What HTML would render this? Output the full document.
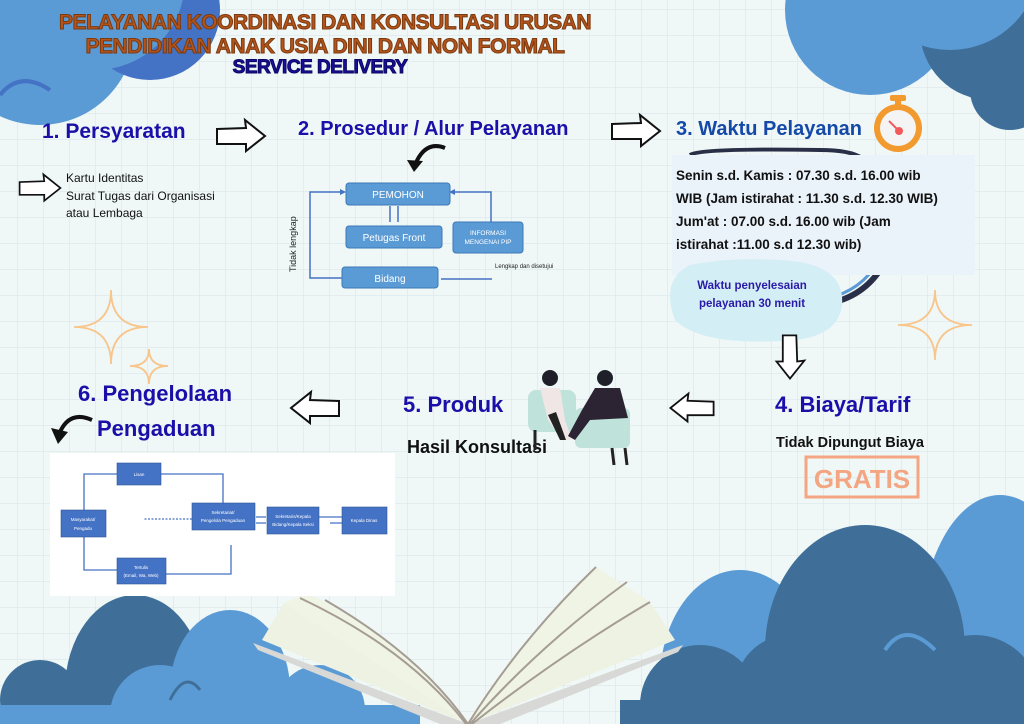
<!DOCTYPE html>
<html><head><meta charset="utf-8"><style>
html,body{margin:0;padding:0;width:1024px;height:724px;overflow:hidden;background:#eff7f7}
svg{display:block;position:absolute;left:0;top:0}
text{font-family:"Liberation Sans",sans-serif}
</style></head><body>
<svg width="1024" height="724" viewBox="0 0 1024 724" xmlns="http://www.w3.org/2000/svg">
<defs>
<pattern id="g" width="26" height="26" patternUnits="userSpaceOnUse" x="18" y="10">
<path d="M26 0V26M0 26H26" stroke="#dfe9eb" stroke-width="1.5" fill="none"/>
</pattern>
<path id="ra" d="M-24,-7 L5,-8 L4,-16 L24,0 L5,15 L5,8 L-24,8 Z"/>
</defs>
<rect width="1024" height="724" fill="#eff7f7"/>
<rect width="1024" height="724" fill="url(#g)"/>

<circle cx="40" cy="30" r="95" fill="#5b9bd5"/>
<circle cx="150" cy="10" r="70" fill="#4472c4"/>
<circle cx="95" cy="-20" r="90" fill="#5b9bd5"/>
<path d="M0,95 Q20,70 50,90" stroke="#4472c4" stroke-width="4" fill="none"/>
<circle cx="870" cy="10" r="85" fill="#5b9bd5"/>
<circle cx="990" cy="30" r="70" fill="#3f6f99"/>
<circle cx="950" cy="-40" r="90" fill="#5b9bd5"/>
<circle cx="1010" cy="90" r="40" fill="#3f6f99"/>

<ellipse cx="135" cy="690" rx="70" ry="95" fill="#3f6f99"/>
<circle cx="40" cy="700" r="40" fill="#3f6f99"/>
<ellipse cx="230" cy="690" rx="60" ry="80" fill="#5b9bd5"/>
<circle cx="160" cy="715" r="50" fill="#5b9bd5"/>
<circle cx="320" cy="710" r="45" fill="#5b9bd5"/>
<rect x="0" y="705" width="420" height="19" fill="#5b9bd5"/>
<path d="M170,700 Q185,670 200,690" stroke="#3f6f99" stroke-width="3" fill="none"/>
<ellipse cx="1000" cy="640" rx="80" ry="145" fill="#5b9bd5"/>
<ellipse cx="740" cy="680" rx="80" ry="110" fill="#5b9bd5"/>
<ellipse cx="865" cy="650" rx="100" ry="125" fill="#3f6f99"/>
<circle cx="700" cy="705" r="60" fill="#3f6f99"/>
<circle cx="790" cy="690" r="55" fill="#3f6f99"/>
<circle cx="975" cy="700" r="65" fill="#3f6f99"/>
<rect x="620" y="700" width="404" height="24" fill="#3f6f99"/>
<path d="M885,650 Q905,620 935,650" stroke="#5b9bd5" stroke-width="4" fill="none"/>

<path d="M253,643 L468,724 L440,724 L258,650 Z" fill="#d8d8d6"/>
<path d="M683,645 L468,724 L500,724 L678,652 Z" fill="#d8d8d6"/>
<path d="M262,640 L284,603 Q400,650 468,724 Z" fill="#eef2e2"/>
<path d="M675,640 L650,602 Q540,660 468,724 Z" fill="#eef2e2"/>
<path d="M284,603 L307,593 Q420,650 468,724 Z" fill="#f0f4e4"/>
<path d="M650,602 L596,567 Q520,640 468,724 Z" fill="#f0f4e4"/>
<path d="M300,598 Q410,650 466,724 M325,600 Q420,655 468,724 M596,567 Q520,640 468,724 M627,582 Q540,645 470,724 M650,602 Q560,655 472,724" stroke="#a59d93" stroke-width="2" fill="none"/>

<g font-weight="bold" text-anchor="middle" stroke="#7a3a10" stroke-width="1">
<text x="325" y="29" font-size="21" fill="#b5541a" letter-spacing="-0.5">PELAYANAN KOORDINASI DAN KONSULTASI URUSAN</text>
<text x="325" y="53" font-size="21" fill="#b5541a" letter-spacing="-0.5">PENDIDIKAN ANAK USIA DINI DAN NON FORMAL</text>
<text x="320" y="73" font-size="19" fill="#1a0f9a" stroke="#0b0760" letter-spacing="-0.5">SERVICE DELIVERY</text>
</g>

<text x="42" y="138" font-size="21" font-weight="bold" fill="#1a0fa8">1. Persyaratan</text>
<use href="#ra" transform="translate(241,136)" fill="#fff" stroke="#111" stroke-width="2"/>
<use href="#ra" transform="translate(40,188) scale(0.85)" fill="#fff" stroke="#111" stroke-width="2"/>
<g font-size="12" fill="#111">
<text x="66" y="182">Kartu Identitas</text>
<text x="66" y="200">Surat Tugas dari Organisasi</text>
<text x="66" y="217">atau Lembaga</text>
</g>

<text x="298" y="135" font-size="20" font-weight="bold" fill="#1a0fa8">2. Prosedur / Alur Pelayanan</text>
<path d="M445,148 Q425,140 415,165" stroke="#111" stroke-width="4" fill="none"/>
<path d="M407,160 L414,172 L423,161 Z" fill="#111"/>
<use href="#ra" transform="translate(636,131)" fill="#fff" stroke="#111" stroke-width="2"/>
<g stroke="#4472c4" stroke-width="1.5" fill="none">
<path d="M342,278 H310 V192 H340"/>
<path d="M441,279 H492"/>
<path d="M491,222 V192 H455"/>
<path d="M390,206 V222 M398,206 V222"/>
</g>
<path d="M340,189 L346,192 L340,195 Z M455,189 L449,192 L455,195Z" fill="#4472c4"/>
<g fill="#5b9bd5" stroke="#3e78b8" stroke-width="1">
<rect x="346" y="183" width="104" height="22" rx="3"/>
<rect x="346" y="226" width="96" height="22" rx="3"/>
<rect x="342" y="267" width="96" height="21" rx="3"/>
<rect x="453" y="222" width="70" height="31" rx="3"/>
</g>
<g fill="#fff" font-family="Liberation Serif,serif" text-anchor="middle">
<text x="398" y="198" font-size="10">PEMOHON</text>
<text x="394" y="241" font-size="10">Petugas Front</text>
<text x="390" y="282" font-size="10">Bidang</text>
<text x="488" y="235" font-size="6.5">INFORMASI</text>
<text x="488" y="244" font-size="6.5">MENGENAI PIP</text>
</g>
<text x="495" y="268" font-size="6" font-family="Liberation Serif,serif" fill="#222">Lengkap dan disetujui</text>
<text transform="translate(296,272) rotate(-90)" font-size="9" font-family="Liberation Serif,serif" fill="#222">Tidak lengkap</text>

<text x="676" y="135" font-size="20" font-weight="bold" fill="#1549a8">3. Waktu Pelayanan</text>
<g>
<rect x="890" y="95" width="16" height="6" rx="2" fill="#f29a2e"/>
<rect x="895" y="100" width="6" height="6" fill="#f29a2e"/>
<circle cx="898" cy="128" r="24" fill="#f29a2e"/>
<circle cx="898" cy="128" r="18" fill="#f4f4f4"/>
<circle cx="899" cy="131" r="4" fill="#f25a5a"/>
<path d="M899,131 L889,121" stroke="#f25a5a" stroke-width="2"/>
</g>
<path d="M690,155 Q700,148 820,150 Q850,150 862,158" stroke="#2a2f48" stroke-width="4" fill="none"/>
<path d="M820,305 Q860,300 880,270" stroke="#2a2f48" stroke-width="6" fill="none"/>
<path d="M818,300 Q855,295 874,268" stroke="#5b9bd5" stroke-width="3" fill="none"/>
<rect x="672" y="155" width="303" height="120" fill="#eaf2fa"/>
<g font-size="13.5" fill="#111" font-weight="bold">
<text x="676" y="180">Senin s.d. Kamis : 07.30 s.d. 16.00 wib</text>
<text x="676" y="203">WIB (Jam istirahat : 11.30 s.d. 12.30 WIB)</text>
<text x="676" y="226">Jum'at : 07.00 s.d. 16.00 wib (Jam</text>
<text x="676" y="249">istirahat :11.00 s.d 12.30 wib)</text>
</g>
<path d="M690,265 Q740,255 800,262 Q845,270 842,305 Q838,340 780,341 Q700,345 675,320 Q660,280 690,265 Z" fill="#d4eef6"/>
<g font-size="11.5" font-weight="bold" fill="#2a1aa8" text-anchor="middle">
<text x="752" y="289">Waktu penyelesaian</text>
<text x="752" y="307">pelayanan 30 menit</text>
</g>

<g stroke="#f8c58a" stroke-width="1.8" fill="none">
<path d="M111,290 Q111,327 148,327 Q111,327 111,364 Q111,327 74,327 Q111,327 111,290 Z"/>
<path d="M149,349 Q149,366 168,366 Q149,366 149,384 Q149,366 130,366 Q149,366 149,349 Z"/>
<path d="M935,290 Q935,325 972,325 Q935,325 935,360 Q935,325 898,325 Q935,325 935,290 Z"/>
</g>

<use href="#ra" transform="translate(790,357) rotate(90) scale(0.9)" fill="#fff" stroke="#111" stroke-width="2"/>
<text x="775" y="412" font-size="22" font-weight="bold" fill="#1a0fa8">4. Biaya/Tarif</text>
<text x="776" y="447" font-size="14.5" font-weight="bold" fill="#111">Tidak Dipungut Biaya</text>
<rect x="806" y="457" width="112" height="40" fill="none" stroke="#f4a582" stroke-width="3"/>
<text x="862" y="488" font-size="26" font-weight="bold" fill="#f4a582" text-anchor="middle">GRATIS</text>
<use href="#ra" transform="translate(692,408) scale(-0.9,0.9)" fill="#fff" stroke="#111" stroke-width="2"/>

<text x="403" y="412" font-size="22" font-weight="bold" fill="#1a0fa8">5. Produk</text>
<text x="407" y="453" font-size="18" font-weight="bold" fill="#111">Hasil Konsultasi</text>
<g>
<rect x="528" y="390" width="48" height="42" rx="8" fill="#bfe3db"/>
<rect x="575" y="408" width="55" height="40" rx="6" fill="#bfe3db"/>
<circle cx="550" cy="378" r="8" fill="#1f1f2a"/>
<circle cx="605" cy="378" r="8" fill="#1f1f2a"/>
<path d="M540,388 L560,388 L565,420 L572,440 L562,440 L548,420 Z" fill="#f1e6e6"/>
<path d="M548,415 L560,440 L566,440 L556,412 Z" fill="#222"/>
<path d="M595,388 L620,388 L628,418 L590,420 L575,440 L568,436 L582,410 Z" fill="#2c2433"/>
<path d="M612,448 L614,465 M625,448 L627,465 M535,430 L535,450" stroke="#222" stroke-width="3"/>
</g>
<use href="#ra" transform="translate(315,408) scale(-1,1)" fill="#fff" stroke="#111" stroke-width="2"/>

<text x="78" y="401" font-size="22" font-weight="bold" fill="#1a0fa8">6. Pengelolaan</text>
<text x="97" y="436" font-size="22" font-weight="bold" fill="#1a0fa8">Pengaduan</text>
<path d="M92,420 Q70,410 60,432" stroke="#111" stroke-width="4" fill="none"/>
<path d="M51,428 L58,444 L68,432 Z" fill="#111"/>

<rect x="50" y="453" width="345" height="143" fill="#fff"/>
<g stroke="#4472c4" stroke-width="1.3" fill="none">
<path d="M84,510 V474 H117 M84,536 V570 H117 M160,474 H223 V503 M166,574 H231 V545"/>
<path d="M192,519 H143" stroke-dasharray="2,1.5"/>
<path d="M256,517 H266 M266,523 H256 M319,517 H342 M342,523 H330" />
</g>
<g fill="#4472c4" stroke="#2f5597" stroke-width="0.6">
<rect x="61" y="510" width="45" height="27"/>
<rect x="117" y="463" width="44" height="22"/>
<rect x="192" y="503" width="63" height="27"/>
<rect x="267" y="507" width="52" height="27"/>
<rect x="342" y="507" width="45" height="27"/>
<rect x="117" y="558" width="49" height="26"/>
</g>
<g fill="#fff" font-size="4.5" text-anchor="middle">
<text x="83" y="521">Masyarakat/</text><text x="83" y="530">Pengadu</text>
<text x="139" y="476">Lisan</text>
<text x="223" y="514">Sekretariat/</text><text x="223" y="522">Pengelola Pengaduan</text>
<text x="293" y="518">Sekretaris/Kepala</text><text x="293" y="526">Bidang/Kepala Seksi</text>
<text x="364" y="522">Kepala Dinas</text>
<text x="141" y="569">Tertulis</text><text x="141" y="577">(Email, Wa, Web)</text>
</g>
</svg>
</body></html>
